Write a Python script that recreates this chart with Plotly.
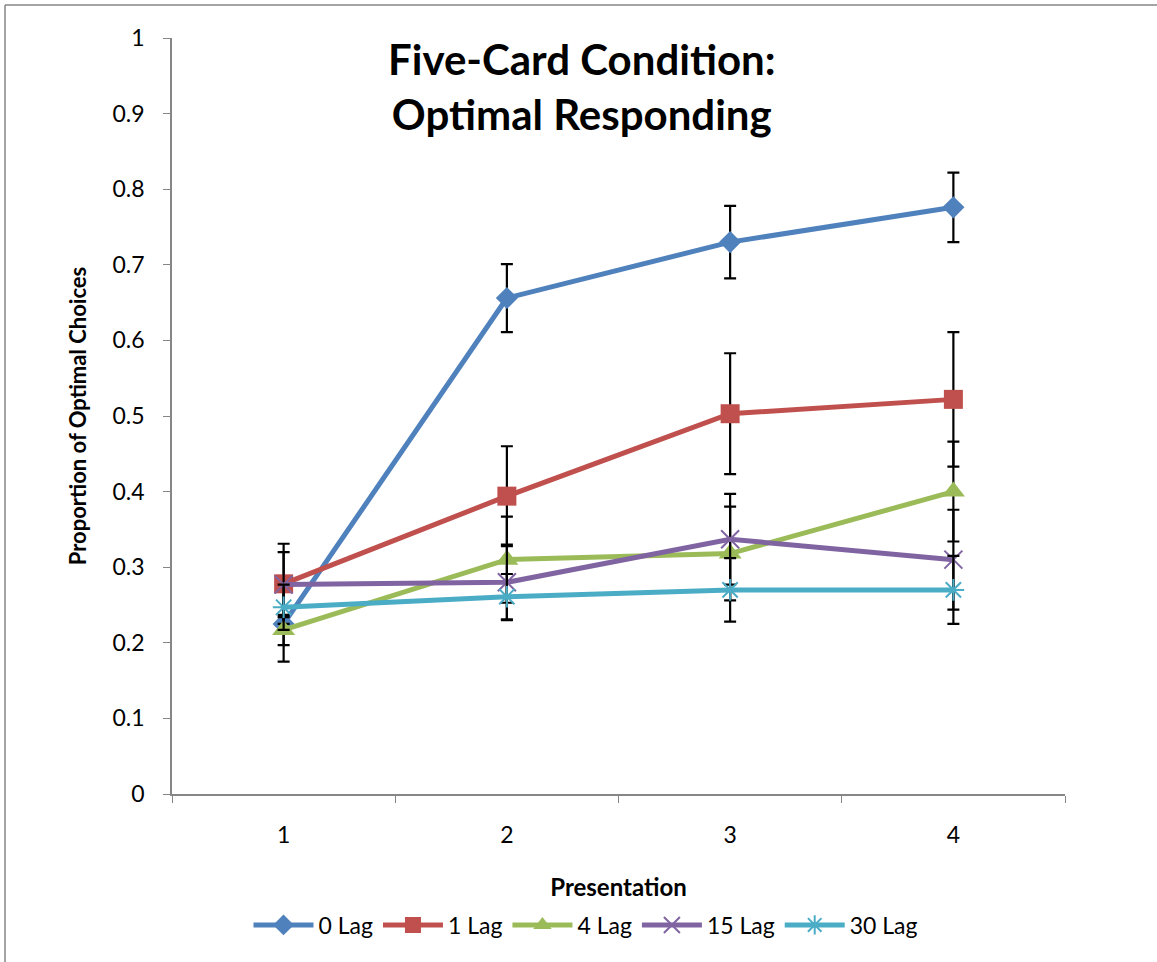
import plotly.graph_objects as go

presentations = ["1", "2", "3", "4"]
series_names = ["0 Lag", "1 Lag", "4 Lag", "15 Lag", "30 Lag"]
lag0 = [0.225, 0.656, 0.730, 0.776]
lag1 = [0.278, 0.394, 0.503, 0.522]
lag4 = [0.217, 0.310, 0.318, 0.400]
lag15 = [0.277, 0.280, 0.337, 0.310]
lag30 = [0.247, 0.261, 0.270, 0.270]
err0 = [0.050, 0.045, 0.048, 0.046]
err1 = [0.053, 0.066, 0.080, 0.089]
err4 = [0.020, 0.057, 0.062, 0.066]
err15 = [0.043, 0.050, 0.060, 0.066]
err30 = [0.030, 0.030, 0.042, 0.045]

values = [lag0, lag1, lag4, lag15, lag30]
errors = [err0, err1, err4, err15, err30]
colors = ["#4F81BD", "#C0504D", "#9BBB59", "#8064A2", "#4BACC6"]
symbols = ["diamond", "square", "triangle-up", "x-thin", "asterisk"]
msizes = [17, 19, 20, 18, 18]

FONT = "Lato, Carlito, 'Open Sans', sans-serif"

fig = go.Figure()
for name, v, e, c, s, ms in zip(series_names, values, errors, colors, symbols, msizes):
    thin = s in ("x-thin", "asterisk")
    fig.add_trace(go.Scatter(
        x=presentations, y=v, name=name, mode="lines+markers",
        line=dict(color=c, width=5),
        marker=dict(symbol=s, size=ms, color=c,
                    line=dict(color=c, width=2 if thin else 0)),
        error_y=dict(type="data", array=e, visible=True, color="black",
                     thickness=2.2, width=6),
    ))

W, H = 1157, 962
ml, mr, mt, mb = 172, 92, 38, 168
pw, ph = W - ml - mr, H - mt - mb

fig.update_layout(
    width=W, height=H,
    margin=dict(l=ml, r=mr, t=mt, b=mb),
    paper_bgcolor="white", plot_bgcolor="white",
    font=dict(family=FONT, size=23, color="black"),
    showlegend=True,
    legend=dict(orientation="h", x=(586 - ml) / pw, xanchor="center",
                y=(mt + ph - 925) / ph, yanchor="middle",
                font=dict(size=23), itemwidth=60, tracegroupgap=0),
    xaxis=dict(type="category", range=[-0.5, 3.5], tickson="boundaries",
               ticks="outside", ticklen=7, tickcolor="#868686",
               showline=True, linecolor="#868686", linewidth=1.5,
               showgrid=False, zeroline=False,
               tickfont=dict(size=23), ticklabelstandoff=20,
               title=dict(text="<b>Presentation</b>", font=dict(size=24), standoff=32)),
    yaxis=dict(range=[0, 1], tickvals=[0, 0.1, 0.2, 0.3, 0.4, 0.5, 0.6, 0.7, 0.8, 0.9, 1],
               ticktext=["0", "0.1", "0.2", "0.3", "0.4", "0.5", "0.6", "0.7", "0.8", "0.9", "1"],
               ticks="outside", ticklen=7, tickcolor="#868686",
               showline=True, linecolor="#868686", linewidth=1.5,
               showgrid=False, zeroline=False, tickfont=dict(size=23),
               ticklabelstandoff=14,
               title=dict(text="<b>Proportion of Optimal Choices</b>", font=dict(size=22), standoff=20)),
)

fig.add_annotation(
    text="<b>Five-Card Condition:<br>Optimal Responding</b>",
    xref="paper", yref="paper", x=(582 - ml) / pw, y=(mt + ph - 86) / ph,
    xanchor="center", yanchor="middle", showarrow=False,
    font=dict(size=42, family=FONT, color="black"), align="center",
)

# chart-area frame (only top and left edges visible in the reference crop)
bx0, by0 = (5 - ml) / pw, (mt + ph - 5) / ph
fig.add_shape(type="line", xref="paper", yref="paper",
              x0=bx0, x1=(W - ml) / pw, y0=by0, y1=by0,
              line=dict(color="#868686", width=1.5), layer="below")
fig.add_shape(type="line", xref="paper", yref="paper",
              x0=bx0, x1=bx0, y0=by0, y1=(mt + ph - H) / ph,
              line=dict(color="#868686", width=1.5), layer="below")

fig.write_html("out.html", config={"displayModeBar": False},
               post_script="document.body.style.margin='0';")
